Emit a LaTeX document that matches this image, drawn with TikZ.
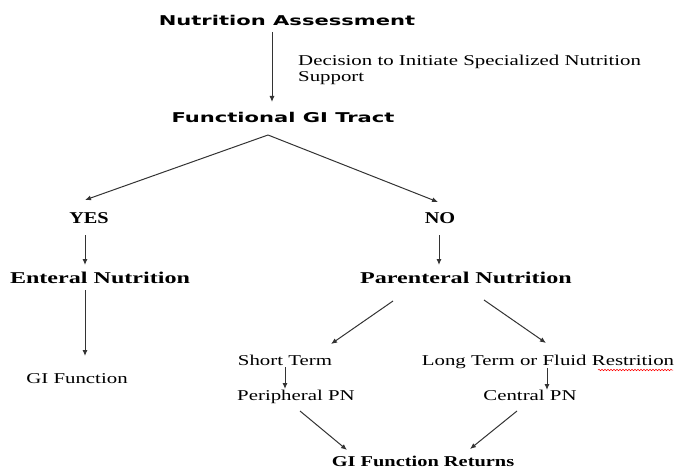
\documentclass[tikz,border=0pt]{standalone}
\usepackage{fontspec}
\setmainfont{Liberation Serif}[FakeStretch=1.39]
\newfontfamily\hdfont{DejaVu Sans}[FakeStretch=1.56]
\newfontfamily\bigbold{Liberation Serif}[FakeStretch=1.46]
\newfontfamily\capbold{Liberation Serif}[FakeStretch=1.23]
\newfontfamily\retbold{Liberation Serif}[FakeStretch=1.36]
\usetikzlibrary{decorations.pathmorphing,arrows.meta}
\begin{document}
\begin{tikzpicture}[x=1pt,y=-1pt,
  every node/.style={inner sep=0pt,anchor=base},
  hd/.style={font=\hdfont\bfseries\fontsize{13.5}{16}\selectfont},
  yn/.style={font=\capbold\bfseries\fontsize{16.5}{19}\selectfont},
  bb/.style={font=\bigbold\bfseries\fontsize{16.5}{19}\selectfont},
  rb/.style={font=\retbold\bfseries\fontsize{15}{18}\selectfont},
  tx/.style={font=\fontsize{15}{17}\selectfont},
  arr/.style={-{Latex[length=6pt,width=5pt]},line width=1pt,black!80}]
\useasboundingbox (0,0) rectangle (675,468);
\node[hd] (na) at (287,26) {Nutrition Assessment};
\node[tx,anchor=base west] (dec) at (298,66) {Decision to Initiate Specialized Nutrition};
\node[tx,anchor=base west] (sup) at (298,82) {Support};
\node[hd] (gi) at (283,123) {Functional GI Tract};
\node[yn] (yes) at (89,223.5) {YES};
\node[yn] (no) at (440,223.5) {NO};
\node[bb] (en) at (100,283) {Enteral Nutrition};
\node[bb] (pn) at (466,283) {Parenteral Nutrition};
\node[tx] (gif) at (77,383) {GI Function};
\node[tx] (st) at (285,365) {Short Term};
\node[tx] (lt) at (548,365) {Long Term or Fluid Restrition};
\node[tx] (pp) at (296,400) {Peripheral PN};
\node[tx] (cp) at (530,400) {Central PN};
\node[rb] (gr) at (423,466) {GI Function Returns};
\coordinate (fork) at (268,135);
\coordinate (a1) at (272,32);   \coordinate (a2) at (272,102);
\coordinate (fy) at (85,200);   \coordinate (fn) at (438,202);
\coordinate (y1) at (85,235);   \coordinate (y2) at (85,265);
\coordinate (n1) at (439,235);  \coordinate (n2) at (439,265);
\coordinate (e1) at (85,290);   \coordinate (e2) at (85,356);
\coordinate (p1) at (393,301);  \coordinate (p2) at (331,344);
\coordinate (q1) at (484,300);  \coordinate (q2) at (546,343);
\coordinate (s1) at (285,367);  \coordinate (s2) at (285,389);
\coordinate (l1) at (547,368);  \coordinate (l2) at (547,390);
\coordinate (r1) at (300,411);  \coordinate (r2) at (347,450);
\coordinate (c1) at (517,411);  \coordinate (c2) at (470,449);
\draw[arr] (a1) -- (a2);
\draw[arr] (fork) -- (fy);
\draw[arr] (fork) -- (fn);
\draw[arr] (y1) -- (y2);
\draw[arr] (n1) -- (n2);
\draw[arr] (e1) -- (e2);
\draw[arr] (p1) -- (p2);
\draw[arr] (q1) -- (q2);
\draw[arr] (s1) -- (s2);
\draw[arr] (l1) -- (l2);
\draw[arr] (r1) -- (r2);
\draw[arr] (c1) -- (c2);
\draw[red,line width=0.5pt,decorate,decoration={snake,amplitude=0.8pt,segment length=3pt}] (598,370) -- (673,370);
\end{tikzpicture}
\end{document}
